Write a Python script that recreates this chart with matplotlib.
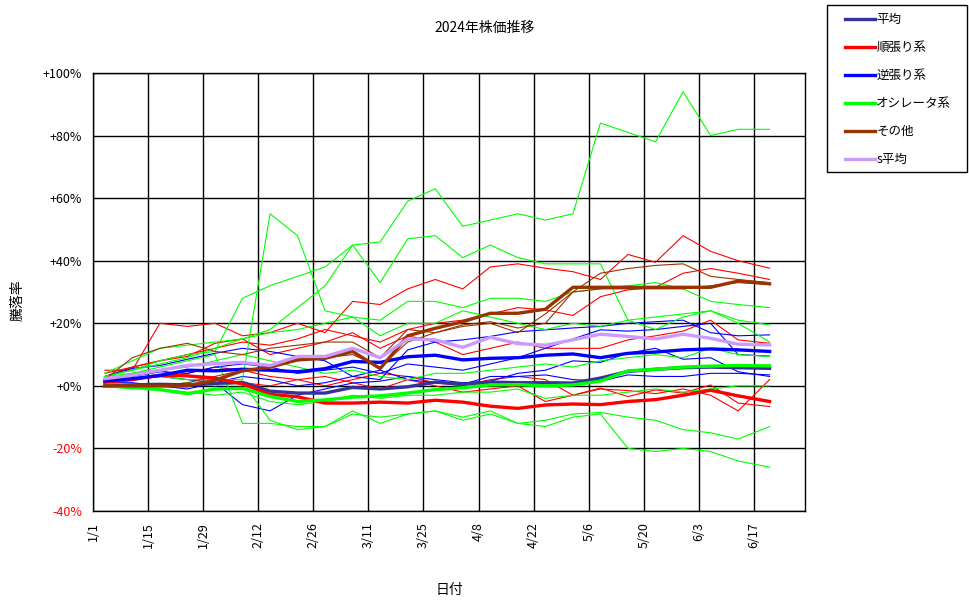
import pandas as pd
import matplotlib
matplotlib.use("Agg")
import matplotlib.pyplot as plt
from matplotlib.patches import Rectangle

plt.rcParams['font.family'] = ['Noto Sans CJK JP', 'DejaVu Sans']

# weekly readings (%)
dates = ["2024-01-04", "2024-01-11", "2024-01-18", "2024-01-25", "2024-02-01",
         "2024-02-08", "2024-02-15", "2024-02-22", "2024-02-29", "2024-03-07",
         "2024-03-14", "2024-03-21", "2024-03-28", "2024-04-04", "2024-04-11",
         "2024-04-18", "2024-04-25", "2024-05-02", "2024-05-09", "2024-05-16",
         "2024-05-23", "2024-05-30", "2024-06-06", "2024-06-13", "2024-06-21"]

# individual stocks (thin lines)
trend_1 = [5, 5, 20, 19, 20, 16, 17, 20, 17, 27, 26, 31, 34, 31, 38, 39, 37.6, 36.5, 34, 42, 39.5, 48, 43, 40, 37.6]
trend_2 = [3, 6, 8, 10, 12, 14, 13, 15, 18, 16, 14, 18, 20, 21, 23, 25, 24.3, 22.5, 28.5, 30.7, 31.5, 36, 37.5, 36, 34]
trend_3 = [4, 6, 8, 9.4, 13.6, 15, 10, 12, 14, 17, 12, 16, 14, 10, 12, 14, 12, 12, 12, 14.7, 16, 17.5, 21, 14.7, 13.6]
trend_4 = [1, 2, 3, 4, 6, 5, 3, 2, 0, 2, 4, 3, 1, 0, 2, 3, 2, -3, -0.7, -3.4, -1.3, -2.3, 0.3, -5.5, -6.6]
trend_5 = [2, 4, 5, 3, 2, 1, 0, 2, 3, 1, -1, 2, 0, -2, -1, 0, -5, -3, -1, -1.5, -2.5, -1, -3, -8, 2]

contra_1 = [3, 5.6, 6.5, 8.5, 10.4, 12, 11, 9.4, 8, 3, 2, 11.5, 14, 14.7, 15.8, 17.3, 17.9, 18.5, 19, 20, 20.5, 21, 17, 16, 16.3]
contra_2 = [2, 3, 4.5, 4, 6, 7, 6, 4, 5, 6, 4, 7, 6, 5, 7, 9, 12, 15, 17.9, 17.5, 18, 19, 20, 10, 9.5]
contra_3 = [1, 2, 3, 2, 1, -6, -8, -3, -1, 0.9, 1.5, 3, 2, 1, 1.5, 4, 5, 8, 7.5, 10.5, 12, 8.5, 9, 4.5, 3]
contra_4 = [1, 1, 0, -1, 1, 3, 2, 0, 1, 3, 5, 2, 1, 0.5, 3, 3, 3.5, 2, 1.5, 3.5, 3, 3, 4, 4, 3.5]

osc_1 = [3, 5, 8, 10, 11, 28, 32, 35, 38, 45, 46, 59, 63, 51, 53, 55, 53, 55, 84, 81, 78, 94, 80, 82, 82]
osc_2 = [3, 5, 7, 9, 12, 15, 18, 25, 32, 45, 33, 47, 48, 41, 45, 41, 39, 39, 39, 21, 22, 23, 24, 21, 19.5]
osc_3 = [1, 2, 3, 2, 2, 2, 55, 48, 24, 22, 21, 27, 27, 25, 28, 28, 27, 30, 31, 32, 33, 31, 27, 26, 25]
osc_4 = [3, 4, 5, 6, 8, 10, 8, 6, 4, 5, 3, 2, 4, 4, 5, 6, 7, 6, 8, 9, 10, 9, 12, 10, 9.4]
osc_5 = [1, 0, -1, -2, -3, -2, -5, -6, -5, -3, -4, -3, -3, -2, -2, -1, -4, -3, -3, -2, -1, -2, -1, 0, 0]
osc_6 = [2, 4, 6, 8, 10, -12, -12, -13, -13, -9, -10, -9, -8, -10, -8, -12, -11, -9, -8.5, -10, -11, -14, -15, -17, -13]
osc_7 = [0, -1, 0, 1, 0, 1, -11, -14, -13, -8, -12, -9, -8, -11, -9, -12, -13, -10, -9, -20, -21, -20, -21, -24, -26]
osc_8 = [4, 8, 12, 13, 14, 15, 17, 18, 20, 22, 16, 20, 20, 24, 22, 20, 18, 20, 19, 21, 18, 22, 24, 20, 14]

other_1 = [2, 9, 12, 13.6, 11, 10, 12, 13, 14, 14, 9, 18, 17, 19.5, 20.5, 18.5, 20, 30, 36, 37.5, 38.5, 39, 35, 34, 33]
other_2 = [0, 0, 0, 1, 3, 5, 6, 8, 9, 10, 6, 14, 17, 19, 20, 17, 23, 30, 31, 31, 31, 31, 32, 33, 32.5]

# group averages (thick lines)
avg_all = [0, 0.3, 0.5, 0.3, 0.8, 1.1, -1.7, -2.3, -2.3, -0.5, -1.0, -0.3, 1.2, 0.5, 1.2, 1.0, 1.0, 0.9, 2.5, 4.6, 5.3, 5.8, 6.0, 5.8, 5.6]
avg_trend = [1.2, 2.0, 3.4, 3.2, 2.5, 0.6, -2.7, -3.5, -5.5, -5.5, -5.2, -5.5, -4.6, -5.2, -6.5, -7.2, -6.1, -5.8, -6.0, -5.0, -4.4, -3.0, -1.4, -3.2, -5.0]
avg_contra = [1.6, 2.3, 3.3, 5.0, 4.8, 5.3, 5.0, 4.5, 5.5, 7.8, 7.5, 9.3, 9.8, 8.3, 8.8, 9.0, 9.8, 10.2, 9.0, 10.4, 10.8, 11.5, 11.8, 11.5, 11.0]
avg_osc = [0, -0.5, -1.2, -2.5, -1.0, -0.8, -3.4, -5.0, -4.5, -3.6, -3.2, -2.3, -1.2, -0.6, 0.3, 0.4, 0.0, 0.3, 1.5, 4.8, 5.3, 6.0, 6.3, 6.5, 6.4]
avg_other = [0, 0, 0, 0, 1.8, 4.8, 6.0, 8.3, 8.8, 11.0, 5.5, 16.0, 18.4, 20.5, 23.2, 23.2, 24.5, 31.5, 31.5, 31.5, 31.5, 31.5, 31.5, 33.5, 32.6]
avg_s = [2.3, 3.4, 5.0, 6.5, 7.1, 7.5, 6.5, 9.4, 9.4, 12.0, 9.0, 15.0, 14.7, 12.3, 15.5, 13.5, 13.0, 14.7, 16.5, 15.8, 15.0, 16.5, 15.2, 13.3, 13.1]

x = pd.to_datetime(dates)

fig = plt.figure(figsize=(9.7, 6.04), dpi=100)
ax = fig.add_axes([93/970, 1 - 511/604, 712/970, 438/604])

# thin lines first
for s in [trend_1, trend_2, trend_3, trend_4, trend_5]:
    ax.plot(x, s, color='#FF0000', lw=0.8)
for s in [contra_1, contra_2, contra_3, contra_4]:
    ax.plot(x, s, color='#0000FF', lw=0.8)
for s in [osc_1, osc_2, osc_3, osc_4, osc_5, osc_6, osc_7, osc_8]:
    ax.plot(x, s, color='#00FF00', lw=0.8)
for s in [other_1, other_2]:
    ax.plot(x, s, color='#993300', lw=0.8)

# thick average lines
h1, = ax.plot(x, avg_all, color='#333399', lw=2.4, label='平均')
h2, = ax.plot(x, avg_trend, color='#FF0000', lw=2.4, label='順張り系')
h3, = ax.plot(x, avg_contra, color='#0000FF', lw=2.4, label='逆張り系')
h4, = ax.plot(x, avg_osc, color='#00FF00', lw=2.4, label='オシレータ系')
h5, = ax.plot(x, avg_other, color='#993300', lw=2.4, label='その他')
h6, = ax.plot(x, avg_s, color='#CC99FF', lw=2.4, label='s平均')

ticks = pd.date_range('2024-01-01', periods=13, freq='14D')
ax.set_xticks(ticks)
ax.set_xticklabels([f"{d.month}/{d.day}" for d in ticks], rotation=90, fontsize=9)
ax.set_xlim(pd.Timestamp('2024-01-01'), pd.Timestamp('2024-06-30'))

yt = list(range(-40, 101, 20))
ax.set_ylim(-40, 100)
ax.set_yticks(yt)
ax.set_yticklabels([f"+{v}%" if v >= 0 else f"{v}%" for v in yt], fontsize=9)
for lab, v in zip(ax.get_yticklabels(), yt):
    if v < 0:
        lab.set_color('red')

ax.tick_params(length=0, pad=8)
ax.grid(True, color='black', lw=1)
ax.set_axisbelow(True)
for sp in ax.spines.values():
    sp.set_color('black')
    sp.set_linewidth(1)

fig.text(0.5, 1 - 28/604, '2024年株価推移', ha='center', va='center', fontsize=10)
fig.text(449/970, 1 - 590/604, '日付', ha='center', va='center', fontsize=10)
fig.text(18/970, 1 - 300/604, '騰落率', ha='center', va='center', rotation=90, fontsize=10)

# legend box
fig.patches.append(Rectangle((827/970, 1 - 172/604), 140/970, 167/604,
                             transform=fig.transFigure, fill=False,
                             edgecolor='black', lw=1))
fig.legend(handles=[h1, h2, h3, h4, h5, h6], loc='upper left',
           bbox_to_anchor=(835/970, 1 - 3/604), frameon=False, fontsize=9,
           handlelength=2.4, handletextpad=0.1, labelspacing=1.2, borderpad=0.3)

fig.savefig('out.png', dpi=100)
